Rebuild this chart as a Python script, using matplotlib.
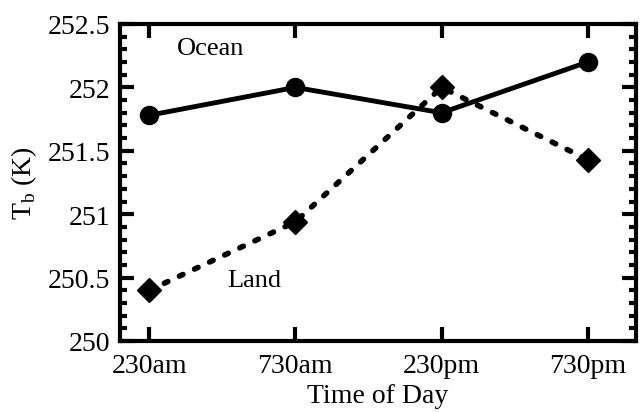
import matplotlib
matplotlib.use("Agg")
import matplotlib.pyplot as plt
from matplotlib.ticker import MultipleLocator

# data
times = ["230am", "730am", "230pm", "730pm"]
ocean = [251.78, 252.0, 251.8, 252.2]
land = [250.4, 250.94, 252.0, 251.43]

plt.rcParams['font.family'] = ['Liberation Serif', 'DejaVu Serif']

fig = plt.figure(figsize=(6.44, 4.14), dpi=100)
ax = fig.add_axes([120/644, 1 - 342/414, (636-120)/644, (342-25)/414])

x = list(range(len(times)))
ax.plot(x, ocean, color='black', lw=3.5, marker='o', ms=13)
ax.plot(x, land, color='black', lw=4, ls=(0, (0.7, 2.3)), dash_capstyle='round',
        marker='D', ms=12.5)

ax.text(0.42, 252.31, "Ocean", fontsize=19, ha='center', va='center')
ax.text(0.72, 250.48, "Land", fontsize=19, ha='center', va='center')

ax.set_xlim(-0.2, 3.33)
ax.set_ylim(250, 252.5)
ax.set_xticks(x)
ax.set_xticklabels(times)
ax.yaxis.set_major_locator(MultipleLocator(0.5))
ax.yaxis.set_minor_locator(MultipleLocator(0.1))
ax.set_yticks([250, 250.5, 251, 251.5, 252, 252.5])
ax.set_yticklabels(["250", "250.5", "251", "251.5", "252", "252.5"])

ax.tick_params(which='both', direction='in', top=True, right=True, width=3,
               labelsize=20)
ax.tick_params(axis='y', pad=7)
ax.tick_params(axis='x', pad=9)
ax.tick_params(which='major', length=10)
ax.tick_params(which='minor', length=5)
for s in ax.spines.values():
    s.set_linewidth(3)

ax.set_xlabel("Time of Day", fontsize=20, labelpad=3)
ax.set_ylabel(r"T$_\mathregular{b}$ (K)", fontsize=20, labelpad=6)

fig.savefig("out.png", dpi=100)
